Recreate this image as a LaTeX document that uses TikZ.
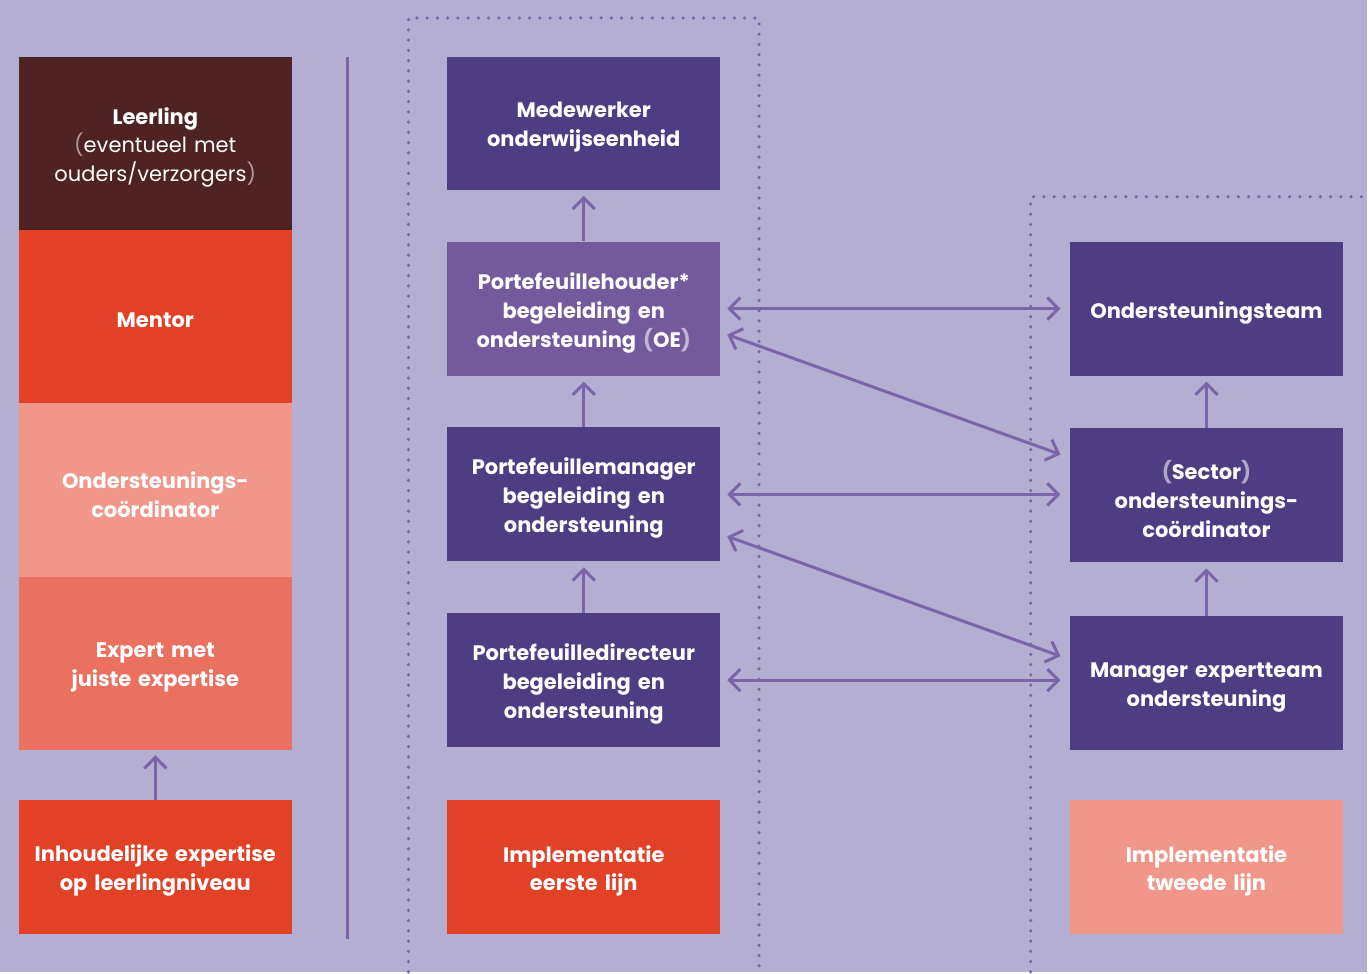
\documentclass[tikz,border=0pt]{standalone}
\usepackage{fontspec}
\setmainfont{Poppins}
\usetikzlibrary{arrows.meta}
\definecolor{bg}{HTML}{B3AED2}
\definecolor{dkred}{HTML}{4F2224}
\definecolor{myred}{HTML}{E04127}
\definecolor{salmon}{HTML}{F0978A}
\definecolor{coral}{HTML}{EA7060}
\definecolor{dpurple}{HTML}{4F3D84}
\definecolor{mpurple}{HTML}{725A9D}
\definecolor{lnc}{HTML}{7B64AA}
\newcommand{\lpar}[2]{{\color{white!55!#1}(}#2{\color{white!55!#1})}}
\begin{document}
\begin{tikzpicture}[x=1pt,y=-1pt,
  box/.style={rectangle, inner sep=0pt, minimum width=273pt},
  lbl/.style={text=white, align=center, inner sep=0pt, text width=268pt,
    font=\fontsize{21}{29}\selectfont\bfseries, yshift=-4pt},
  conn/.style={draw=lnc, line width=3pt, {Straight Barb[length=11pt,width=22pt]}-{Straight Barb[length=11pt,width=22pt]}},
  up/.style={draw=lnc, line width=3pt, -{Straight Barb[length=11pt,width=22pt]}},
  dotline/.style={draw=lnc, line width=3.5pt, line cap=round, dash pattern=on 0pt off 10.25pt}]
\fill[bg] (0,0) rectangle (1369,973);
% left column
\node[box, fill=dkred, minimum height=173pt] (le) at (155.5,143.5) {};
\node[lbl] (le-t) at (le.center) {Leerling\\[-1pt]{\mdseries\lpar{dkred}{eventueel met\\ouders/verzorgers}}};
\node[box, fill=myred, minimum height=174pt] (me) at (155.5,317) {};
\node[lbl] (me-t) at (me.center) {Mentor};
\node[box, fill=salmon, minimum height=174pt] (oc) at (155.5,491) {};
\node[lbl] (oc-t) at (oc.center) {Ondersteunings-\\coördinator};
\node[box, fill=coral, minimum height=173pt] (ex) at (155.5,664.5) {};
\node[lbl] (ex-t) at (ex.center) {Expert met\\juiste expertise};
\node[box, fill=myred, minimum height=134pt] (ih) at (155.5,868) {};
\node[lbl] (ih-t) at (ih.center) {Inhoudelijke expertise\\op leerlingniveau};
\draw[up, shorten >=5pt] (ih.north) -- (ex.south);
% divider
\coordinate (d1) at (348,57);
\coordinate (d2) at (348,940);
\draw[lnc, line width=3pt] (d1) -- (d2);
% dotted frames
\coordinate (f1) at (409,973);
\coordinate (f2) at (409,18);
\coordinate (f3) at (760,18);
\coordinate (f4) at (760,973);
\draw[dotline] (f1) -- (f2) -- (f3) -- (f4);
\coordinate (g1) at (1032,973);
\coordinate (g2) at (1032,197);
\coordinate (g3) at (1369,197);
\draw[dotline] (g1) -- (g2) -- (g3);
% middle column
\node[box, fill=dpurple, minimum height=133pt] (mw) at (584.5,123.5) {};
\node[lbl] (mw-t) at (mw.center) {Medewerker\\onderwijseenheid};
\node[box, fill=mpurple, minimum height=134pt] (ph) at (584.5,309) {};
\node[lbl] (ph-t) at (ph.center) {Portefeuillehouder*\\begeleiding en\\ondersteuning \lpar{mpurple}{OE}};
\node[box, fill=dpurple, minimum height=134pt] (pm) at (584.5,495) {};
\node[lbl] (pm-t) at (pm.center) {Portefeuillemanager\\begeleiding en\\ondersteuning};
\node[box, fill=dpurple, minimum height=134pt] (pd) at (584.5,681) {};
\node[lbl] (pd-t) at (pd.center) {Portefeuilledirecteur\\begeleiding en\\ondersteuning};
\node[box, fill=myred, minimum height=134pt] (ie) at (584.5,868) {};
\node[lbl] (ie-t) at (ie.center) {Implementatie\\eerste lijn};
% right column
\node[box, fill=dpurple, minimum height=134pt, minimum width=274pt] (ot) at (1208,309) {};
\node[lbl] (ot-t) at (ot.center) {Ondersteuningsteam};
\node[box, fill=dpurple, minimum height=134pt, minimum width=274pt] (sc) at (1208,496) {};
\node[lbl] (sc-t) at (sc.center) {\lpar{dpurple}{Sector}\\ondersteunings-\\coördinator};
\node[box, fill=dpurple, minimum height=134pt, minimum width=274pt] (mx) at (1208,684) {};
\node[lbl] (mx-t) at (mx.center) {Manager expertteam\\ondersteuning};
\node[box, fill=salmon, minimum height=134pt, minimum width=274pt] (it) at (1208,868) {};
\node[lbl] (it-t) at (it.center) {Implementatie\\tweede lijn};
% vertical arrows
\draw[up, shorten >=6pt] (ph.north) -- (mw.south);
\draw[up, shorten >=6pt] (pm.north) -- (ph.south);
\draw[up, shorten >=6pt] (pd.north) -- (pm.south);
\draw[up, shorten >=6pt] (sc.north) -- (ot.south);
\draw[up, shorten >=6pt] (mx.north) -- (sc.south);
% connectors
\draw[conn] ([xshift=7pt]ph.east) -- ([xshift=-9pt]ot.west);
\draw[conn] ([xshift=7pt]pm.east) -- ([xshift=-9pt]pm.east -| sc.west);
\draw[conn] ([xshift=7pt]pd.east) -- ([xshift=-9pt]pd.east -| mx.west);
\draw[conn] ([shift={(7,26)}]ph.east) -- ([shift={(-9,-41)}]sc.west);
\draw[conn] ([shift={(7,42)}]pm.east) -- ([shift={(-9,-27)}]mx.west);
\end{tikzpicture}
\end{document}
